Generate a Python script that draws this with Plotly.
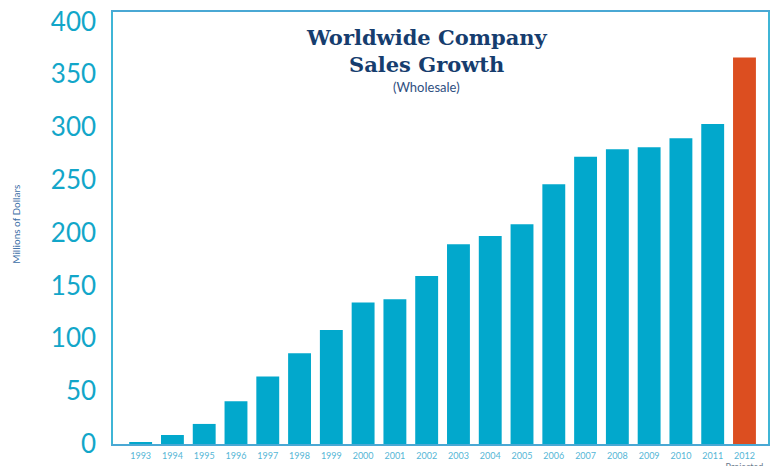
import plotly.graph_objects as go

years = ["1993", "1994", "1995", "1996", "1997", "1998", "1999", "2000", "2001", "2002",
         "2003", "2004", "2005", "2006", "2007", "2008", "2009", "2010", "2011", "2012"]
sales = [1, 8.5, 19, 40.5, 64, 86, 108, 134, 137, 159,
         189, 197, 208, 246, 272, 279, 281, 289.5, 303, 366]
tick_labels = years[:-1] + ["2012<br><span style='color:#6b7b8c'>Projected</span>"]
bar_colors = ["#02a8cc"] * 19 + ["#dc4e20"]
y_ticks = [0, 50, 100, 150, 200, 250, 300, 350, 400]

fig = go.Figure()
fig.add_trace(go.Bar(x=years, y=sales, marker=dict(color=bar_colors, line=dict(width=0)),
                     hoverinfo="x+y"))

fig.update_layout(
    width=776, height=466,
    margin=dict(l=113, r=8, t=12, b=21.5),
    paper_bgcolor="white", plot_bgcolor="white",
    showlegend=False,
    bargap=0.28,
    xaxis=dict(
        type="category", automargin=False,
        range=[-0.87, 19.74],
        tickvals=years, ticktext=tick_labels,
        showline=True, linecolor="#4aa8d4", linewidth=1.5, mirror=True,
        showgrid=False, ticks="",
        tickfont=dict(family="Lato, sans-serif", size=9, color="#55b6d6"),
        ticklabelstandoff=2,
    ),
    yaxis=dict(
        automargin=False,
        range=[0, 409],
        tickvals=y_ticks,
        showline=True, linecolor="#3fb5d6", linewidth=1.5, mirror=True,
        showgrid=False, zeroline=False, ticks="",
        tickfont=dict(family="Lato, sans-serif", size=26, color="#12a6c9"),
        ticklabelstandoff=10,
    ),
    annotations=[
        dict(text="<b>Worldwide Company</b>", xref="paper", yref="paper",
             x=0.479, y=(444.5 - 38) / 432.5, showarrow=False,
             font=dict(family="DejaVu Serif", size=21, color="#163d6e"),
             xanchor="center", yanchor="middle"),
        dict(text="<b>Sales Growth</b>", xref="paper", yref="paper",
             x=0.479, y=(444.5 - 65) / 432.5, showarrow=False,
             font=dict(family="DejaVu Serif", size=21, color="#163d6e"),
             xanchor="center", yanchor="middle"),
        dict(text="(Wholesale)", xref="paper", yref="paper",
             x=0.479, y=(444.5 - 87.5) / 432.5, showarrow=False,
             font=dict(family="Lato, sans-serif", size=13, color="#2f4f7f"),
             xanchor="center", yanchor="middle"),
        dict(text="Millions of Dollars", xref="paper", yref="paper",
             x=(16 - 113) / 655, y=(444.5 - 225) / 432.5, showarrow=False,
             textangle=-90,
             font=dict(family="Lato, sans-serif", size=10, color="#3c6ea6"),
             xanchor="center", yanchor="middle"),
    ],
)

fig.write_html("out.html", config={"displayModeBar": False},
               post_script="document.body.style.margin='0';document.body.style.overflow='hidden';")
